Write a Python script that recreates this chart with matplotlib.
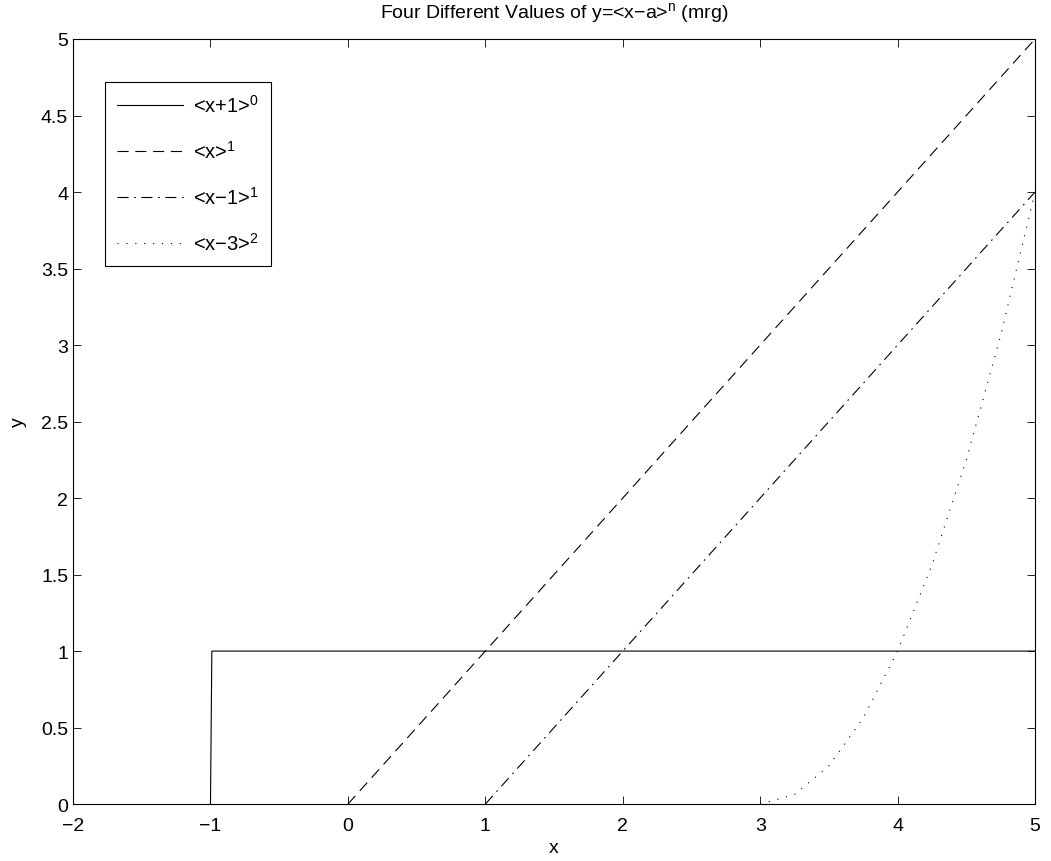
import matplotlib
matplotlib.use("Agg")
import matplotlib.pyplot as plt

plt.rcParams['font.family'] = ['Liberation Sans', 'DejaVu Sans']
plt.rcParams['mathtext.fontset'] = 'custom'
plt.rcParams['mathtext.rm'] = 'Liberation Sans'
plt.rcParams['mathtext.it'] = 'Liberation Sans'
plt.rcParams['axes.unicode_minus'] = True

# data
x_step = [-1, -0.99, 5]
y_step = [0, 1, 1]
x_ramp0 = [0, 5]
y_ramp0 = [0, 5]
x_ramp1 = [1, 5]
y_ramp1 = [0, 4]
x_quad = [3, 3.25, 3.5, 3.75, 4, 4.25, 4.5, 4.75, 5]
y_quad = [0, 0.0625, 0.25, 0.5625, 1, 1.5625, 2.25, 3.0625, 4]
labels = ['<x+1>$^0$', '<x>$^1$', '<x\u22121>$^1$', '<x\u22123>$^2$']
xticks = [-2, -1, 0, 1, 2, 3, 4, 5]
yticks = [0, 0.5, 1, 1.5, 2, 2.5, 3, 3.5, 4, 4.5, 5]

fig = plt.figure(figsize=(10.51, 8.62), dpi=100)
ax = fig.add_axes([0.0695, 0.066, 0.9153, 0.8876])

ax.plot(x_step, y_step, color='black', lw=0.8, label=labels[0])
ax.plot(x_ramp0, y_ramp0, color='black', lw=0.8, dashes=(10, 6), label=labels[1])
ax.plot(x_ramp1, y_ramp1, color='black', lw=0.8, dashes=(10, 5, 1.5, 5), label=labels[2])
ax.plot(x_quad, y_quad, color='black', lw=0.8, dashes=(1, 7), label=labels[3])

ax.set_xlim(-2, 5)
ax.set_ylim(0, 5)
ax.set_xticks(xticks)
ax.set_yticks(yticks)
ax.set_yticklabels(['0', '0.5', '1', '1.5', '2', '2.5', '3', '3.5', '4', '4.5', '5'])
ax.tick_params(direction='in', top=True, right=True, labelsize=14, length=6, width=0.6)
ax.tick_params(axis='x', pad=9)
for s in ax.spines.values():
    s.set_linewidth(0.8)

ax.set_xlabel('x', fontsize=14, labelpad=4)
ax.set_ylabel('y', fontsize=14, labelpad=10)
ax.set_title('Four Different Values of y=<x\u2212a>$^\\mathrm{n}$ (mrg)', fontsize=14, pad=16)

leg = ax.legend(loc='upper left', bbox_to_anchor=(0.033, 0.944), borderaxespad=0,
                fontsize=14.5, frameon=True, fancybox=False, edgecolor='black',
                framealpha=1, handlelength=3.3, labelspacing=1.2, borderpad=0.6,
                handletextpad=0.5)
leg.get_frame().set_linewidth(0.8)

fig.savefig('out.png', dpi=100)
